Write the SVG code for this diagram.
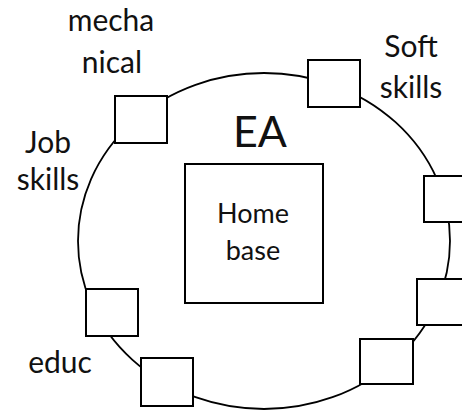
<svg xmlns="http://www.w3.org/2000/svg" width="462" height="413" viewBox="0 0 462 413">
<style>
.bx{fill:#fff;stroke:#000;stroke-width:2}
.ring{fill:none;stroke:#000;stroke-width:1.8}
.t{font-family:Lato,"Liberation Sans",sans-serif;font-size:30px;fill:#111;text-anchor:middle}
.ea{font-size:43px}
.hb{font-size:27px}
</style>
<rect width="462" height="413" fill="#fff"/>
<g id="connectors">
<ellipse class="ring" cx="264" cy="241" rx="186" ry="168"/>
</g>
<g id="home-base">
<rect class="bx" x="185" y="164" width="138" height="139"/>
<text class="t hb" x="253" y="223">Home</text>
<text class="t hb" x="253" y="260">base</text>
</g>
<g id="ea-label"><text class="t ea" x="260" y="147">EA</text></g>
<g id="mechanical">
<rect class="bx" x="115" y="96" width="52" height="47"/>
<text class="t" x="111" y="31">mecha</text>
<text class="t" x="112" y="73">nical</text>
</g>
<g id="soft-skills">
<rect class="bx" x="308" y="60" width="52" height="47"/>
<text class="t" x="411" y="57">Soft</text>
<text class="t" x="411" y="98">skills</text>
</g>
<g id="job-skills">
<text class="t" x="48" y="153">Job</text>
<text class="t" x="48" y="190">skills</text>
</g>
<g id="box-right-1"><rect class="bx" x="424" y="176" width="52" height="46"/></g>
<g id="box-right-2"><rect class="bx" x="417" y="279" width="52" height="46"/></g>
<g id="box-lower-right"><rect class="bx" x="360" y="339" width="53" height="45"/></g>
<g id="box-bottom"><rect class="bx" x="141" y="358" width="52" height="48"/></g>
<g id="box-left"><rect class="bx" x="86" y="289" width="52" height="47"/></g>
<g id="educ"><text class="t" x="60" y="373">educ</text></g>
</svg>
